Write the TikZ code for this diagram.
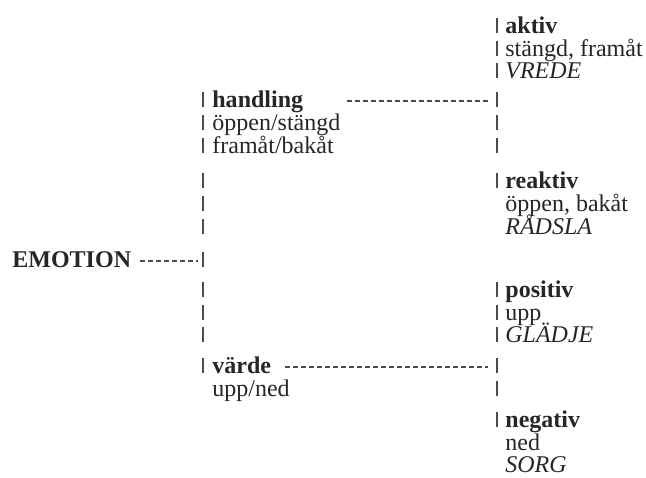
\documentclass[tikz,border=0pt]{standalone}
\RequirePackage{fontspec}
\setmainfont{Liberation Serif}
\RequirePackage{tikz}

\begin{document}
\begin{tikzpicture}[x=0.5pt,y=-0.5pt,
        txt/.style={anchor=base west,inner sep=0pt,font=\fontsize{12}{14}\selectfont,text=black!85},
        head/.style={txt,font=\fontsize{12}{14}\selectfont\bfseries},
        emph/.style={txt,font=\fontsize{12}{14}\selectfont\itshape},
        bar/.style={black!70,line width=0.7pt},
        dashline/.style={black!70,line width=0.6pt,dash pattern=on 2.5pt off 1.5pt}]
            \useasboundingbox (0,0) rectangle (646,477);
            % the root
            \node[head] (emotion) at (12,267) {EMOTION};
            % first level
            \node[head] (handling) at (212,107) {handling};
            \node[txt] (haOppen) at (212,130) {öppen/stängd};
            \node[txt] (haFram) at (212,153) {framåt/bakåt};
            \node[head] (varde) at (212,373) {värde};
            \node[txt] (vaUpp) at (212,396) {upp/ned};
            % second level
            \node[head] (aktiv) at (505,33) {aktiv};
            \node[txt] (akStangd) at (505,56) {stängd, framåt};
            \node[emph] (akVrede) at (505,78) {VREDE};
            \node[head] (reaktiv) at (505,188) {reaktiv};
            \node[txt] (reOppen) at (505,211) {öppen, bakåt};
            \node[emph] (reRadsla) at (505,234) {RÅDSLA};
            \node[head] (positiv) at (505,297) {positiv};
            \node[txt] (poUpp) at (505,320) {upp};
            \node[emph] (poGladje) at (505,342) {GLÄDJE};
            \node[head] (negativ) at (505,427) {negativ};
            \node[txt] (neNed) at (505,450) {ned};
            \node[emph] (neSorg) at (505,472) {SORG};
            % the bars
            \foreach \y in {107,130,153,188,211,234,267,297,320,342,373}
                \draw[bar] (203,\y) -- (203,\y-15);
            \foreach \y in {33,56,78,107,130,153,188,297,320,342,373,396,427}
                \draw[bar] (497,\y) -- (497,\y-15);
            % the dashed links
            \coordinate (jEmo) at (203,261);
            \coordinate (jHand) at (497,101);
            \coordinate (jVarde) at (497,367);
            \draw[dashline,shorten <=4.5pt,shorten >=2.5pt] (emotion.east |- jEmo) -- (jEmo);
            \draw[dashline,shorten <=21.5pt,shorten >=4.5pt] (handling.east |- jHand) -- (jHand);
            \draw[dashline,shorten <=7pt,shorten >=4.5pt] (varde.east |- jVarde) -- (jVarde);
        \end{tikzpicture}
\end{document}
